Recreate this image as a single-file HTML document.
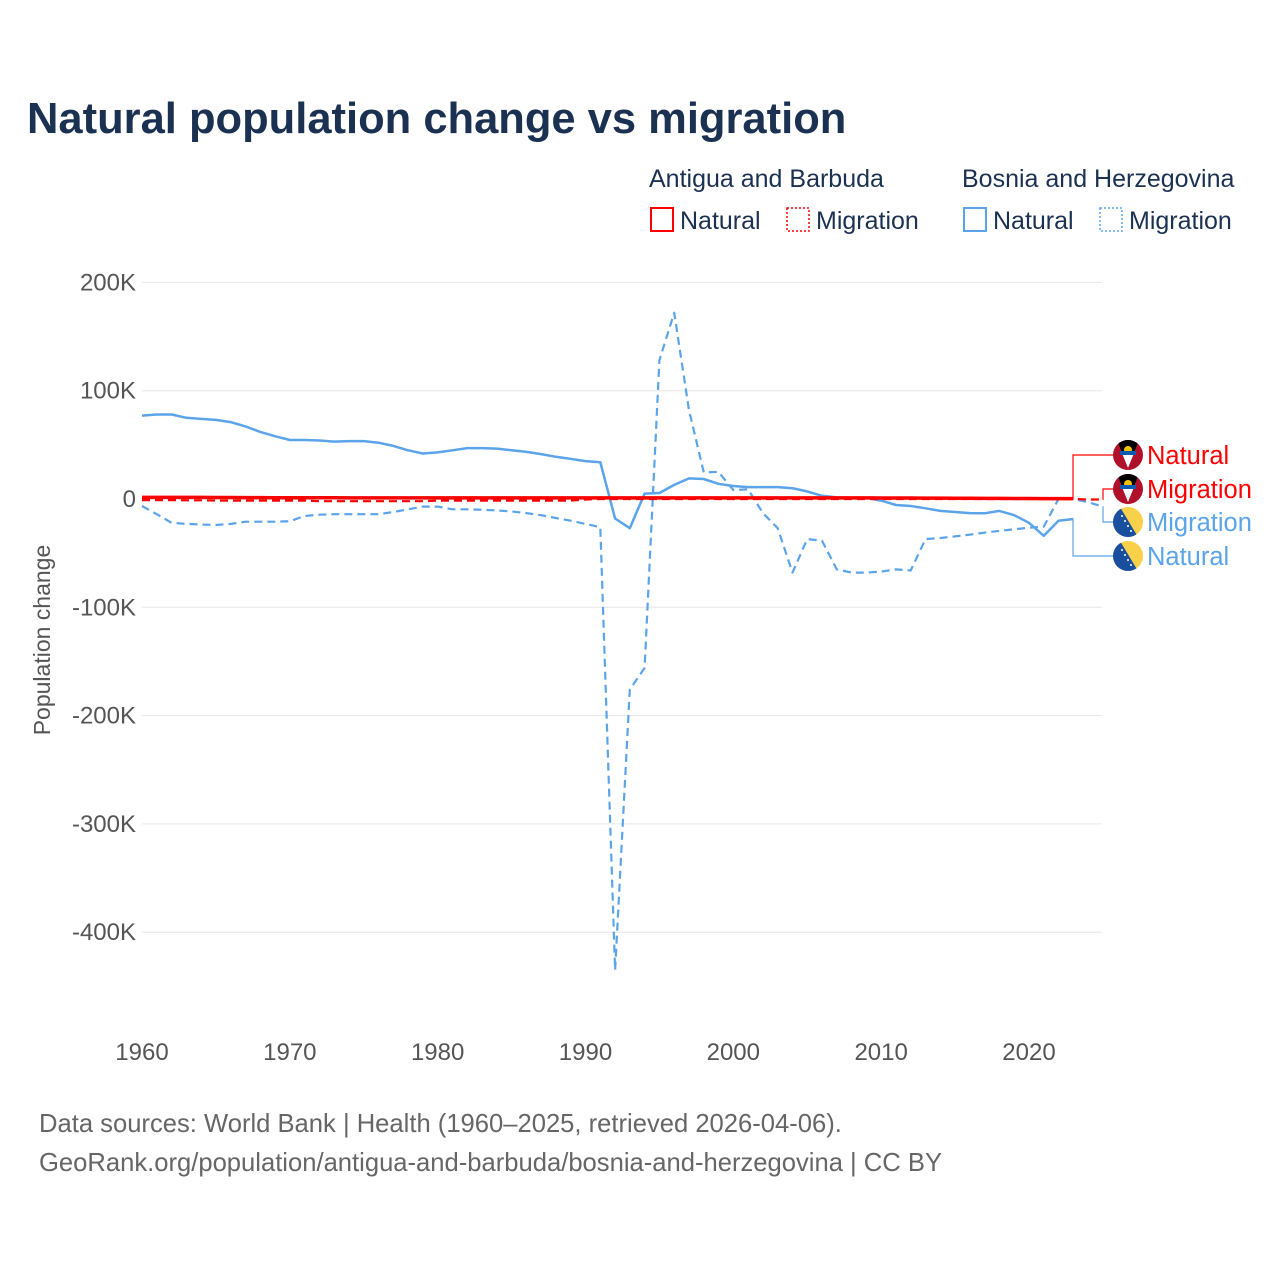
<!DOCTYPE html>
<html><head><meta charset="utf-8">
<style>
body{margin:0;background:#fff;}
svg text{font-family:"Liberation Sans",sans-serif;}
</style></head>
<body>
<svg id="chart" width="1280" height="1280" viewBox="0 0 1280 1280" xmlns="http://www.w3.org/2000/svg">
<defs>
<clipPath id="c1"><circle cx="0" cy="0" r="15"/></clipPath>
<g id="flagAG">
<g clip-path="url(#c1)">
<rect x="-15" y="-15" width="30" height="30" fill="#b0102a"/>
<polygon points="-11,-15 11,-15 0,13" fill="#000"/>
<polygon points="-6.5,-3 6.5,-3 0,13" fill="#fff"/>
<circle cx="0" cy="-5" r="4" fill="#f2c200"/>
<rect x="-8" y="-4" width="16" height="4" fill="#0a5bb0"/>
</g></g>
<g id="flagBA">
<g clip-path="url(#c1)">
<rect x="-15" y="-15" width="30" height="30" fill="#f8d04a"/>
<polygon points="-15,-15 -8,-15 10,15 -15,15" fill="#1a4fa0"/>
<g fill="#fff"><circle cx="-6" cy="-6" r="1"/><circle cx="-3" cy="-1" r="1"/><circle cx="0" cy="4" r="1"/><circle cx="3" cy="9" r="1"/></g>
</g></g>
</defs>
<text x="27" y="133" font-size="43.5" font-weight="bold" fill="#1b3152">Natural population change vs migration</text>

<g font-size="25" fill="#1b3152">
<text x="649" y="187">Antigua and Barbuda</text>
<text x="962" y="187">Bosnia and Herzegovina</text>
<g><rect x="651" y="208" width="22" height="23" fill="none" stroke="#ff0000" stroke-width="2"/><text x="680" y="229">Natural</text></g>
<g><rect x="787" y="208" width="22" height="23" fill="none" stroke="#ff0000" stroke-width="1.5" stroke-dasharray="2 2"/><text x="816" y="229">Migration</text></g>
<g><rect x="964" y="208" width="22" height="23" fill="none" stroke="#5ba4ea" stroke-width="2"/><text x="993" y="229">Natural</text></g>
<g><rect x="1100" y="208" width="22" height="23" fill="none" stroke="#5ba4ea" stroke-width="1.5" stroke-dasharray="2 2"/><text x="1129" y="229">Migration</text></g>
</g>

<g id="grid"></g>
<g id="yticks" font-size="24" fill="#555" text-anchor="end"></g>
<g id="xticks" font-size="24" fill="#555" text-anchor="middle"></g>
<text transform="translate(50,640) rotate(-90)" text-anchor="middle" font-size="23" fill="#555">Population change</text>
<g id="series"></g>
<g id="labels"></g>

<text x="39" y="1132" font-size="25.6" fill="#666">Data sources: World Bank | Health (1960–2025, retrieved 2026-04-06).</text>
<text x="39" y="1171" font-size="25.6" fill="#666">GeoRank.org/population/antigua-and-barbuda/bosnia-and-herzegovina | CC BY</text>
</svg>
<script>
const yTicks=[200000,100000,0,-100000,-200000,-300000,-400000];
const yTickLabels=["200K","100K","0","-100K","-200K","-300K","-400K"];
const xTicks=[1960,1970,1980,1990,2000,2010,2020];
const yearsNat=[];for(let y=1960;y<=2023;y++)yearsNat.push(y);
const yearsMig=[];for(let y=1960;y<=2025;y++)yearsMig.push(y);
const bihNatural=[77,78,78,75,74,73,71,67,62,58,54.5,54.5,54,53,53.5,53.5,52,49,45,42,43,45,47,47,46.5,45,43.5,41.5,39,37,35,34,-18,-27,5,5.5,13,19,18.5,14,12,11,11,11,10,7,3,1.5,1,1,-1.5,-5.5,-6.5,-8.6,-11,-12,-13,-13.2,-11,-15,-22,-34,-20,-18.5];
const bihMigration=[-6.5,-14,-22,-23,-23.5,-24,-23,-21,-21,-21,-20.5,-15.7,-14.5,-14,-14,-14,-14,-12,-9.5,-7,-7,-9.5,-9.5,-10,-10.5,-11.5,-13,-15,-17.5,-20,-23,-26,-435,-176,-156,128,172,82,24.6,25,8.3,9,-13,-27,-68,-37,-38.5,-65,-68,-68,-67,-65,-66,-37,-36,-34.5,-33,-31,-29.5,-28,-26.5,-25.5,0,0,-3,-7];
const agNatural=[1.5,1.5,1.5,1.5,1.5,1.4,1.4,1.3,1.3,1.2,1.2,1.1,1.1,1.1,1,1,1,1,1,1,1,1,1,1,1,1,1,1,1,1,1,1,1,1,1,1,1,1,1,1,1,1,1,1,1,1,1,1,1,1,0.9,0.9,0.9,0.8,0.8,0.7,0.7,0.6,0.6,0.5,0.5,0.4,0.4,0.4];
const agMigration=[-1,-1,-1,-1.2,-1.2,-1.5,-1.5,-1.5,-1.5,-1.5,-1.5,-1.5,-2,-2,-2,-2,-2,-2,-2,-2,-1.5,-1.5,-1.5,-1.5,-1.5,-1.5,-1.5,-1.5,-1.5,-1.5,-0.5,0,0,0,0,0,0,0,0,0,0,0,0,0,0,0,0,0,0,0,0,0,0,0,0,0,0,0,0,0,0,0,0,0,-0.5,-0.5];
const NS='http://www.w3.org/2000/svg';
const X=y=>142+(y-1960)*14.783;
const Y=v=>499-v*0.001083;
function mk(t,a,p){const e=document.createElementNS(NS,t);for(const k in a)e.setAttribute(k,a[k]);p.appendChild(e);return e;}
const grid=document.getElementById('grid'),yt=document.getElementById('yticks'),xt=document.getElementById('xticks');
yTicks.forEach((v,i)=>{
 const l=mk('line',{x1:142,x2:1102,y1:Y(v),y2:Y(v),stroke:'#e6e6e6','stroke-width':1},grid);
 
 
 const t=mk('text',{x:136,y:Y(v)+8},yt);t.textContent=yTickLabels[i];
 
 
});
xTicks.forEach(y=>{
 const t=mk('text',{x:X(y),y:1060},xt);t.textContent=y;
 
 
});
const ser=document.getElementById('series');
function line(years,vals,color,dash,w,name){
 const d=vals.map((v,i)=>(i?'L':'M')+X(years[i]).toFixed(1)+' '+Y(v*1000).toFixed(1)).join(' ');
 const p=mk('path',{d:d,fill:'none',stroke:color,'stroke-width':w,'stroke-dasharray':dash,'stroke-linejoin':'round'},ser);
 
 
}
line(yearsMig,bihMigration,'#5ba4ea','8 5',2.2,'bosnia-migration-line');
line(yearsNat,bihNatural,'#5ba4ea','none',2.5,'bosnia-natural-line');
line(yearsMig,agMigration,'#ff0000','8 5',2.2,'antigua-migration-line');
line(yearsNat,agNatural,'#ff0000','none',3.5,'antigua-natural-line');
const lab=document.getElementById('labels');
const ends=[
 {n:'antigua-natural',yr:yearsNat,v:agNatural,ly:455,c:'#ff0000',f:'flagAG',t:'Natural',bx:1073},
 {n:'antigua-migration',yr:yearsMig,v:agMigration,ly:489,c:'#ff0000',f:'flagAG',t:'Migration',bx:1103},
 {n:'bosnia-migration',yr:yearsMig,v:bihMigration,ly:522,c:'#5ba4ea',f:'flagBA',t:'Migration',bx:1103},
 {n:'bosnia-natural',yr:yearsNat,v:bihNatural,ly:556,c:'#5ba4ea',f:'flagBA',t:'Natural',bx:1073}];
ends.forEach(e=>{
 const g=mk('g',{},lab);
 
 
 const last=e.v.length-1;
 const x0=X(e.yr[last]),y0=Y(e.v[last]*1000);
 mk('polyline',{points:`${x0},${y0} ${e.bx},${y0} ${e.bx},${e.ly} 1113,${e.ly}`,fill:'none',stroke:e.c,'stroke-width':1.2},g);
 mk('use',{href:'#'+e.f,x:1128,y:e.ly},g);
 const t=mk('text',{x:1147,y:e.ly+9,'font-size':25.5,fill:e.c},g);t.textContent=e.t;
});
</script>
</body></html>
